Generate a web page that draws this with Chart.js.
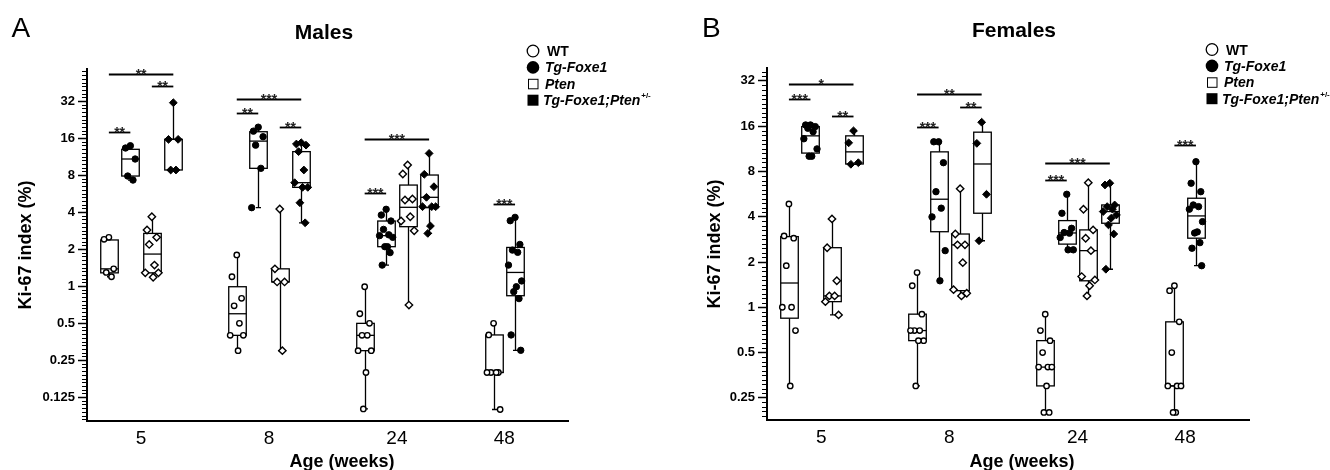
<!DOCTYPE html>
<html><head><meta charset="utf-8">
<script src="https://cdn.jsdelivr.net/npm/chart.js@4.4.1/dist/chart.umd.min.js"></script>
<style>
html,body{margin:0;padding:0;background:#fff;}
#wrap{display:flex;width:1330px;height:470px;}
#wrap div{position:relative;height:470px;}
canvas{display:block;}
</style></head><body>
<div id="wrap"><div style="width:660px"><canvas id="cA" width="660" height="470"></canvas></div><div style="width:670px"><canvas id="cB" width="670" height="470"></canvas></div></div>
<script>
// ---------- categories / labels ----------
const ages = ['5', '8', '24', '48'];
const genotypes = ['WT', 'Tg-Foxe1', 'Pten', 'Tg-Foxe1;Pten'];
const maleYTicks = [0.125, 0.25, 0.5, 1, 2, 4, 8, 16, 32];
const femaleYTicks = [0.25, 0.5, 1, 2, 4, 8, 16, 32];

// ---------- Males: points per age (5, 8, 24, 48 weeks) ----------
const maleWT = [[2.49, 2.40, 1.38, 1.29, 1.19], [1.79, 1.19, 0.794, 0.69, 0.497, 0.397, 0.397, 0.298], [0.987, 0.595, 0.497, 0.397, 0.397, 0.298, 0.298, 0.198, 0.1], [0.497, 0.4, 0.198, 0.198, 0.198, 0.198, 0.099]];
const maleTg = [[13.85, 13.27, 10.8, 7.85, 7.28], [19.6, 18.2, 16.4, 14.0, 9.07, 4.34], [4.21, 3.78, 3.38, 2.89, 2.61, 2.57, 2.49, 2.09, 2.09, 1.87, 1.48], [3.62, 3.40, 2.18, 1.96, 1.88, 1.48, 1.10, 0.987, 0.90, 0.79, 0.40, 0.30]];
const malePten = [[3.66, 2.86, 2.49, 2.18, 1.48, 1.28, 1.28, 1.18], [4.23, 1.38, 1.08, 1.08, 0.298], [9.65, 8.15, 5.10, 5.01, 3.66, 3.38, 2.82, 0.70], null];
const maleTgPten = [[31.0, 15.6, 15.6, 8.79, 8.79], [14.65, 14.3, 14.0, 12.4, 8.79, 6.93, 6.35, 6.35, 4.76, 3.27], [12.0, 8.11, 6.43, 5.27, 4.42, 4.42, 4.42, 3.08, 2.68], null];
// box stats [min, q1, median, q3, max]
const maleWTBox = [[1.19, 1.28, 1.38, 2.37, 2.49], [0.298, 0.397, 0.595, 0.987, 1.79], [0.1, 0.298, 0.397, 0.497, 0.987], [0.099, 0.198, 0.198, 0.4, 0.497]];
const maleTgBox = [[7.28, 7.85, 10.8, 12.95, 13.85], [4.34, 9.07, 15.1, 18.0, 19.6], [1.48, 2.09, 2.57, 3.38, 4.21], [0.30, 0.834, 1.29, 2.06, 3.62]];
const malePtenBox = [[1.18, 1.28, 1.82, 2.68, 3.66], [0.298, 1.08, 1.08, 1.38, 4.23], [0.70, 3.04, 4.37, 6.63, 9.65], null];
const maleTgPtenBox = [[8.79, 8.79, 15.6, 15.6, 31.0], [3.27, 6.35, 6.93, 12.4, 14.65], [2.68, 4.34, 5.27, 8.0, 12.0], null];
// significance: [age index, genotype from, genotype to, level, stars]
const maleSig = [[0, 0, 3, 53, '**'], [0, 2, 3, 42.4, '**'], [0, 0, 1, 17.9, '**'], [1, 0, 3, 33.2, '***'], [1, 0, 1, 25.6, '**'], [1, 2, 3, 19.7, '**'], [2, 0, 3, 15.7, '***'], [2, 0, 1, 5.71, '***'], [3, 0, 1, 4.65, '***']];

// ---------- Females ----------
const femaleWT = [[4.87, 2.98, 2.88, 1.89, 1.0, 1.0, 0.70, 0.30], [1.70, 1.39, 0.90, 0.70, 0.70, 0.70, 0.60, 0.60, 0.30], [0.90, 0.70, 0.60, 0.50, 0.40, 0.40, 0.40, 0.30, 0.20, 0.20], [1.39, 1.29, 0.80, 0.50, 0.30, 0.30, 0.30, 0.20, 0.20]];
const femaleTg = [[16.3, 16.3, 15.9, 15.5, 14.7, 13.2, 11.3, 10.1, 10.1], [12.6, 12.6, 9.15, 5.87, 4.56, 3.99, 2.38, 1.50], [5.64, 4.22, 3.35, 3.14, 3.11, 2.91, 2.41, 2.41], [9.29, 6.68, 5.87, 4.79, 4.67, 4.49, 3.71, 3.17, 3.12, 2.69, 2.47, 1.89]];
const femalePten = [[3.87, 2.49, 1.50, 1.19, 1.19, 1.09, 0.89], [6.15, 3.07, 2.60, 2.60, 1.98, 1.31, 1.24, 1.19], [6.74, 4.49, 3.27, 2.88, 2.38, 1.60, 1.52, 1.39, 1.19], null];
const femaleTgPten = [[14.9, 12.4, 9.15, 8.93], [17.0, 12.3, 5.64, 2.77], [6.68, 6.51, 4.79, 4.67, 4.49, 4.33, 4.11, 3.91, 3.53, 3.07, 1.79], null];
const femaleWTBox = [[0.30, 0.846, 1.45, 2.95, 4.87], [0.30, 0.60, 0.70, 0.90, 1.70], [0.20, 0.30, 0.40, 0.60, 0.90], [0.20, 0.30, 0.30, 0.80, 1.39]];
const femaleTgBox = [[10.1, 10.6, 13.8, 15.9, 16.3], [1.50, 3.18, 5.23, 10.8, 12.6], [2.41, 2.63, 3.12, 3.77, 5.64], [1.89, 2.88, 4.05, 5.31, 9.29]];
const femalePtenBox = [[0.89, 1.09, 1.19, 2.49, 3.87], [1.19, 1.29, 2.60, 3.07, 6.15], [1.19, 1.50, 2.38, 3.27, 6.74], null];
const femaleTgPtenBox = [[8.93, 8.97, 10.8, 13.8, 14.9], [2.77, 4.22, 8.97, 14.6, 17.0], [1.79, 3.62, 4.33, 4.79, 6.68], null];
const femaleSig = [[0, 0, 3, 30.5, '*'], [0, 0, 1, 24.2, '***'], [0, 2, 3, 18.7, '**'], [1, 0, 3, 26.3, '**'], [1, 2, 3, 21.6, '**'], [1, 0, 1, 15.9, '***'], [2, 0, 3, 9.07, '***'], [2, 0, 1, 7.02, '***'], [3, 0, 1, 12.0, '***']];

// ---------- layout / style constants ----------
const groupPos = [0, 1, 2, 2.84];
const SLOT = 0.168, BOXW = 0.137;
const jitter = [0, -0.55, 0.55, -0.3, 0.3, -0.75, 0.75, 0.15, -0.15, 0.45, -0.45, 0.65];
const FONT = "'Liberation Sans', Arial, Helvetica, sans-serif";
const styles = [
  {shape: 'circle', r: 2.7, fill: '#fff', bw: 1.4},
  {shape: 'circle', r: 3.2, fill: '#000', bw: 1},
  {shape: 'rectRot', r: 3.7, fill: '#fff', bw: 1.4},
  {shape: 'rectRot', r: 3.9, fill: '#000', bw: 1}
];

function makePanel(canvasId, P) {
  const present = i => P.series.map((s, g) => (s[i] ? g : -1)).filter(g => g >= 0);
  const slotX = (i, g) => { const pr = present(i); const k = pr.indexOf(g); return groupPos[i] + (k - (pr.length - 1) / 2) * SLOT; };

  const datasets = P.series.map((s, g) => ({
    label: genotypes[g],
    data: s.flatMap((vals, i) => vals ? vals.map((v, j) => ({x: slotX(i, g) + jitter[j % jitter.length] * BOXW / 2, y: v})) : []),
    pointStyle: styles[g].shape,
    pointRadius: styles[g].r,
    pointBackgroundColor: styles[g].fill,
    pointBorderColor: '#000',
    pointBorderWidth: styles[g].bw,
    showLine: false
  }));

  const plugin = {
    id: 'panel' + P.letter,
    beforeDatasetsDraw(chart) {
      const {ctx, scales: {x, y}} = chart;
      const hw = (x.getPixelForValue(BOXW) - x.getPixelForValue(0)) / 2;
      ctx.save();
      ctx.strokeStyle = '#000'; ctx.lineWidth = 1.3;
      P.boxes.forEach((arr, g) => arr.forEach((st, i) => {
        if (!st) return;
        const cx = Math.round(x.getPixelForValue(slotX(i, g))) + 0.5;
        const [pmn, pq1, pmd, pq3, pmx] = st.map(v => y.getPixelForValue(v));
        ctx.beginPath();
        ctx.moveTo(cx, pq1); ctx.lineTo(cx, pmn);
        ctx.moveTo(cx - 2.5, pmn); ctx.lineTo(cx + 2.5, pmn);
        ctx.moveTo(cx, pq3); ctx.lineTo(cx, pmx);
        ctx.moveTo(cx - 2.5, pmx); ctx.lineTo(cx + 2.5, pmx);
        ctx.stroke();
        ctx.strokeRect(cx - hw, pq3, 2 * hw, pq1 - pq3);
        ctx.beginPath(); ctx.moveTo(cx - hw, pmd); ctx.lineTo(cx + hw, pmd); ctx.stroke();
      }));
      ctx.restore();
    },
    afterDatasetsDraw(chart) {
      const {ctx, scales: {x, y}} = chart;
      ctx.save();
      ctx.strokeStyle = '#000'; ctx.fillStyle = '#222'; ctx.lineWidth = 1.8;
      ctx.font = 'bold 14px ' + FONT; ctx.textAlign = 'center'; ctx.textBaseline = 'alphabetic';
      P.sig.forEach(([i, g1, g2, lvl, txt]) => {
        const x1 = x.getPixelForValue(slotX(i, g1)), x2 = x.getPixelForValue(slotX(i, g2));
        const py = Math.round(y.getPixelForValue(lvl)) + 0.5;
        ctx.beginPath(); ctx.moveTo(x1, py); ctx.lineTo(x2, py); ctx.stroke();
        ctx.fillText(txt, (x1 + x2) / 2, py + 4);
      });
      ctx.restore();
    },
    afterDraw(chart) {
      const {ctx, scales: {y}, chartArea} = chart;
      ctx.save();
      // minor ticks on log2 axis
      ctx.strokeStyle = '#000'; ctx.lineWidth = 1;
      const lo = Math.log2(y.min), hi = Math.log2(y.max);
      ctx.beginPath();
      for (let k = Math.ceil(lo * 10); k <= Math.floor(hi * 10); k++) {
        if (k % 10 === 0) continue;
        const py = Math.round(y.getPixelForValue(Math.pow(2, k / 10))) + 0.5;
        ctx.moveTo(chartArea.left - 5, py); ctx.lineTo(chartArea.left, py);
      }
      ctx.stroke();
      ctx.fillStyle = '#000';
      // panel letter and title
      ctx.textBaseline = 'alphabetic';
      ctx.textAlign = 'left'; ctx.font = '28px ' + FONT;
      ctx.fillText(P.letter, P.letterX, 37);
      ctx.textAlign = 'center'; ctx.font = 'bold 21px ' + FONT;
      ctx.fillText(P.title, P.titleX, P.titleY);
      // x axis title
      ctx.font = 'bold 18px ' + FONT;
      ctx.fillText('Age (weeks)', P.xTitleX, 467);
      // legend
      const lx = P.legendX;
      genotypes.forEach((name, k) => {
        const cy = P.legendY + k * 16.4;
        ctx.beginPath();
        ctx.lineWidth = 1.3;
        if (k === 0) { ctx.arc(lx, cy, 5.8, 0, Math.PI * 2); ctx.stroke(); }
        else if (k === 1) { ctx.arc(lx, cy, 6.3, 0, Math.PI * 2); ctx.fill(); }
        else if (k === 2) { ctx.lineWidth = 1; ctx.strokeRect(lx - 4.5, cy - 4.5, 9.5, 9.5); }
        else { ctx.fillRect(lx - 5.5, cy - 5.5, 11, 11); }
        ctx.textAlign = 'left';
        ctx.font = (k === 0 ? 'bold ' : 'italic bold ') + '14px ' + FONT;
        const tx = lx + (k === 0 ? 14 : (k === 3 ? 10 : 12));
        ctx.fillText(name, tx, cy + 5);
        if (k === 3) {
          const w = ctx.measureText(name).width;
          ctx.font = 'bold 8px ' + FONT;
          ctx.fillText('+/-', tx + w + 1, cy - 2);
        }
      });
      ctx.restore();
    }
  };

  return new Chart(document.getElementById(canvasId), {
    type: 'scatter',
    data: {datasets},
    plugins: [plugin],
    options: {
      responsive: false,
      animation: false,
      events: [],
      layout: {padding: {left: P.padLeft, top: P.padTop, bottom: P.padBottom, right: P.padRight}},
      plugins: {legend: {display: false}, tooltip: {enabled: false}},
      scales: {
        x: {
          type: 'linear', min: -0.423, max: 3.338,
          afterBuildTicks: s => { s.ticks = groupPos.map(v => ({value: v})); },
          afterFit: s => { s.height = 30; },
          grid: {display: false, drawTicks: false},
          border: {display: true, color: '#000', width: 2},
          ticks: {autoSkip: false, maxRotation: 0, padding: 6, color: '#000', font: {family: FONT, size: 19}, callback: (v, i) => ages[i]}
        },
        y: {
          type: 'logarithmic', min: P.yMin, max: P.yMax, bounds: 'data',
          afterBuildTicks: s => { s.ticks = P.yTicks.map(v => ({value: v})); },
          afterFit: s => { s.width = P.yWidth; },
          grid: {display: true, drawOnChartArea: false, drawTicks: true, tickLength: 9, tickWidth: 1.5, tickColor: '#000'},
          border: {display: true, color: '#000', width: 2},
          ticks: {autoSkip: false, padding: 3, color: '#000', font: {family: FONT, size: 13, weight: 'bold'}, callback: v => String(v)},
          title: {display: true, text: 'Ki-67 index (%)', color: '#000', font: {family: FONT, size: 18, weight: 'bold'}, padding: {top: 5, bottom: 0}}
        }
      }
    }
  });
}

makePanel('cA', {
  letter: 'A', letterX: 11.5, title: 'Males', titleX: 324, titleY: 39, xTitleX: 342,
  legendX: 533, legendY: 51,
  padLeft: 10, yWidth: 77, padTop: 69, padBottom: 19, padRight: 92,
  yMin: 0.0798, yMax: 58.3, yTicks: maleYTicks,
  series: [maleWT, maleTg, malePten, maleTgPten],
  boxes: [maleWTBox, maleTgBox, malePtenBox, maleTgPtenBox],
  sig: maleSig
});
makePanel('cB', {
  letter: 'B', letterX: 42, title: 'Females', titleX: 354, titleY: 37, xTitleX: 362,
  legendX: 552, legendY: 49.5,
  padLeft: 39, yWidth: 68, padTop: 68, padBottom: 20, padRight: 81,
  yMin: 0.178, yMax: 39, yTicks: femaleYTicks,
  series: [femaleWT, femaleTg, femalePten, femaleTgPten],
  boxes: [femaleWTBox, femaleTgBox, femalePtenBox, femaleTgPtenBox],
  sig: femaleSig
});
</script>
</body></html>
